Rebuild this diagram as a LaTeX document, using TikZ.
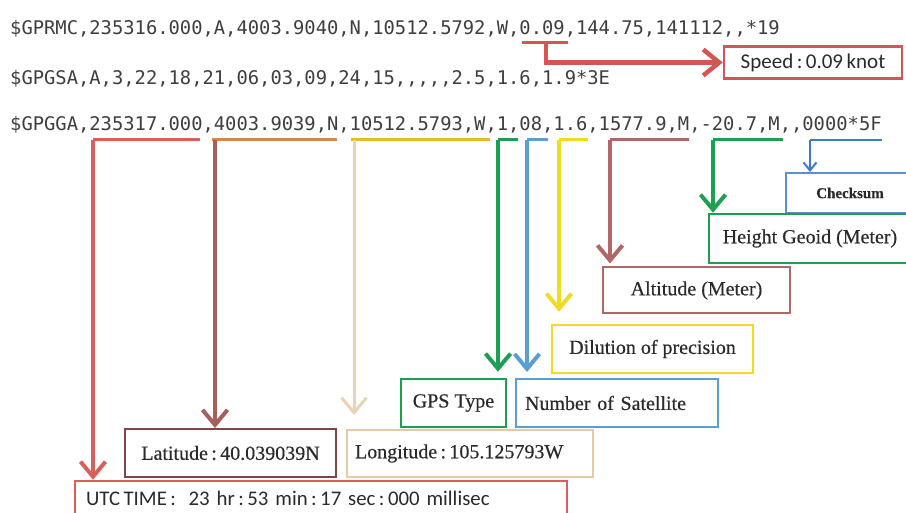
\documentclass[tikz,border=0pt]{standalone}
\usepackage{fontspec}
\setmainfont{Liberation Serif}[FakeBold=0.4]
\newfontfamily\monofont{DejaVu Sans Mono}
\newfontfamily\calfont{Carlito}
\usetikzlibrary{arrows.meta}
\definecolor{monogray}{HTML}{3E3E3E}
\definecolor{labelgray}{HTML}{2A2A2A}
\definecolor{utcred}{HTML}{D95F5B}
\definecolor{latline}{HTML}{A65F5D}
\definecolor{latbox}{HTML}{7E4747}
\definecolor{latunder}{HTML}{D28A45}
\definecolor{lonunder}{HTML}{E5BA22}
\definecolor{lonline}{HTML}{E8D3B6}
\definecolor{lonbox}{HTML}{E2CBA8}
\definecolor{gpsgreen}{HTML}{1E9E55}
\definecolor{satblue}{HTML}{5A9ED2}
\definecolor{dopyellow}{HTML}{F2DC22}
\definecolor{altbrown}{HTML}{B06866}
\definecolor{geoidgreen}{HTML}{1FA04E}
\definecolor{ckblue}{HTML}{3A7CCB}
\definecolor{ckbox}{HTML}{5B8FD3}
\definecolor{speedred}{HTML}{D35555}
\begin{document}
\begin{tikzpicture}[x=1pt,y=-1pt,
  mono/.style={font=\monofont\fontsize{18.8}{22}\selectfont, text=monogray, inner sep=0pt, anchor=base west},
  lbl/.style={draw, font=\fontsize{20}{24}\selectfont, text=labelgray, inner sep=0pt, line width=2pt},
  conn/.style={line width=4pt, -{Straight Barb[length=15pt,width=25pt]}},
  uline/.style={line width=3pt},
]
\useasboundingbox (0,0) rectangle (906,513);
\fill[white] (0,0) rectangle (906,513);

% NMEA sentences
\node[mono] (l1) at (10,35) {\$GPRMC,235316.000,A,4003.9040,N,10512.5792,W,0.09,144.75,141112,,*19};
\node[mono] (l2) at (10,85) {\$GPGSA,A,3,22,18,21,06,03,09,24,15,,,,,2.5,1.6,1.9*3E};
\node[mono] (l3) at (10,131) {\$GPGGA,235317.000,4003.9039,N,10512.5793,W,1,08,1.6,1577.9,M,-20.7,M,,0000*5F};

% label boxes
\node[lbl, draw=speedred, line width=2.5pt, font=\calfont\fontsize{21}{24}\selectfont, minimum width=178pt, minimum height=32pt] (speed) at (813,62.5) {Speed\,:\,0.09\,knot};
\node[lbl, draw=ckbox, font=\bfseries\fontsize{15}{18}\selectfont, minimum width=128pt, minimum height=40pt] (ck) at (850,193) {Checksum};
\node[lbl, draw=geoidgreen, line width=2.5pt, minimum width=202pt, minimum height=49pt] (geoid) at (810,238.5) {Height Geoid (Meter)};
\node[lbl, draw=altbrown, minimum width=187pt, minimum height=46pt] (alt) at (696.5,290.5) {Altitude (Meter)};
\node[lbl, draw=dopyellow, line width=2.5pt, minimum width=201pt, minimum height=48pt] (dop) at (652.5,349) {Dilution of precision};
\node[lbl, draw=gpsgreen, line width=2.5pt, minimum width=105pt, minimum height=48pt] (gps) at (453.5,403) {GPS Type};
\node[lbl, draw=satblue, minimum width=202pt, minimum height=48pt, text width=184pt, align=left] (sat) at (617,403) {Number of Satellite};
\node[lbl, draw=latbox, minimum width=211pt, minimum height=48pt] (lat) at (230.5,453) {Latitude\,:\,40.039039N};
\node[lbl, draw=lonbox, minimum width=246pt, minimum height=47pt, text width=230pt, align=left] (lon) at (470,453.5) {Longitude\,:\,105.125793W};
\node[lbl, draw=utcred, line width=2.5pt, font=\calfont\fontsize{20.8}{24}\selectfont, minimum width=492pt, minimum height=35pt, text width=470pt, align=left] (utc) at (321,498.5) {UTC\,TIME\,:\; 23 hr\,:\,53 min\,:\,17 sec\,:\,000 millisec};

% speed connector
\coordinate (spA) at (522,43);
\coordinate (spB) at (568,43);
\coordinate (spM) at (546,43);
\draw[uline, speedred] (spA) -- (spB);
\draw[speedred, line width=4.5pt, -{Straight Barb[length=16pt,width=26pt]}] (spM) |- (speed.west);

% field connectors of $GPGGA
\coordinate (utcE) at (200,140);   \coordinate (utcC) at (93,140);
\draw[uline, utcred] (utcE) -- (utcC);
\draw[conn, utcred] (utcC) -- (utcC |- utc.north);

\coordinate (latE) at (337,140);   \coordinate (latB) at (212,140); \coordinate (latC) at (215,140);
\draw[uline, latunder] (latE) -- (latB);
\draw[conn, latline] (latC) -- (latC |- lat.north);

\coordinate (lonE) at (490,140);   \coordinate (lonB) at (351,140); \coordinate (lonC) at (354,140);
\draw[uline, lonunder] (lonE) -- (lonB);
\draw[conn, lonline, line width=3pt, shorten >=14pt] (lonC) -- (lonC |- lon.north);

\coordinate (gpsE) at (518,140);   \coordinate (gpsC) at (498,140);
\draw[uline, gpsgreen] (gpsE) -- (gpsC);
\draw[conn, gpsgreen, shorten >=6pt] (gpsC) -- (gpsC |- gps.north);

\coordinate (satE) at (548,140);   \coordinate (satC) at (527,140);
\draw[uline, satblue] (satE) -- (satC);
\draw[conn, satblue, shorten >=6pt] (satC) -- (satC |- sat.north);

\coordinate (dopE) at (588,140);   \coordinate (dopC) at (559,140);
\draw[uline, dopyellow] (dopE) -- (dopC);
\draw[conn, dopyellow, shorten >=12pt] (dopC) -- (dopC |- dop.north);

\coordinate (altE) at (689,140);   \coordinate (altC) at (610,140);
\draw[uline, altbrown] (altE) -- (altC);
\draw[conn, altbrown, shorten >=3pt] (altC) -- (altC |- alt.north);

\coordinate (geoE) at (783,140);   \coordinate (geoC) at (713,140);
\draw[uline, geoidgreen] (geoE) -- (geoC);
\draw[conn, geoidgreen] (geoC) -- (geoC |- geoid.north);

\coordinate (ckE) at (882,140);    \coordinate (ckC) at (810,140);
\draw[line width=2pt, ckblue] (ckE) -- (ckC);
\draw[line width=2pt, ckblue, -{Straight Barb[length=8pt,width=13pt]}] (ckC) -- (ckC |- ck.north);
\end{tikzpicture}
\end{document}
